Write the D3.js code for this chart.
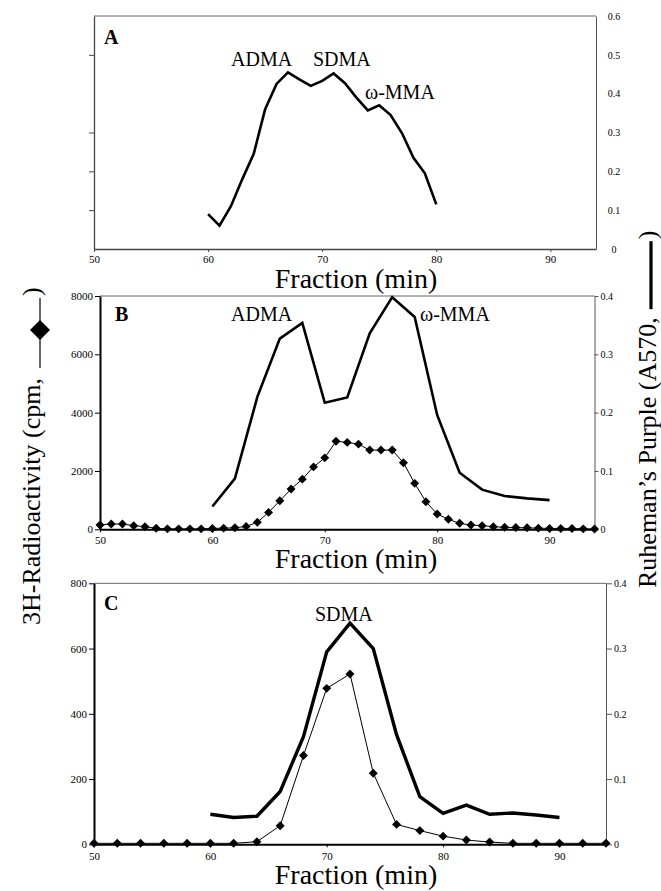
<!DOCTYPE html>
<html>
<head>
<meta charset="utf-8">
<script src="https://cdn.jsdelivr.net/npm/d3@7"></script>
<style>
  body { margin: 0; background: #fff; }
  svg { font-family: "Liberation Serif", "Times New Roman", serif; }
</style>
</head>
<body>
<div id="chart"></div>
<script>
// Фракции (мин) и показания
var xTicks = [50, 60, 70, 80, 90];

// A: только поглощение (A570)
var fracA = [60, 61, 62, 63, 64, 65, 66, 67, 68, 69, 70, 71, 72, 73, 74, 75, 76, 77, 78, 79, 80];
var purpleA = [0.09, 0.06, 0.11, 0.18, 0.245, 0.36, 0.425, 0.455, 0.437, 0.42, 0.433, 0.452, 0.427, 0.39, 0.357, 0.37, 0.345, 0.298, 0.235, 0.195, 0.115];
var rightTicksA = [0, 0.1, 0.2, 0.3, 0.4, 0.5, 0.6];
var leftTicksA = [0.1, 0.2, 0.3, 0.5];

// B
var fracBPurple = [60, 62, 64, 66, 68, 70, 72, 74, 76, 78, 80, 82, 84, 86, 88, 90];
var purpleB = [0.039, 0.087, 0.227, 0.327, 0.354, 0.217, 0.226, 0.336, 0.398, 0.364, 0.196, 0.097, 0.068, 0.057, 0.053, 0.05];
var fracBRadio = [50, 51, 52, 53, 54, 55, 56, 57, 58, 59, 60, 61, 62, 63, 64, 65, 66, 67, 68, 69, 70, 71, 72, 73, 74, 75, 76, 77, 78, 79, 80, 81, 82, 83, 84, 85, 86, 87, 88, 89, 90, 91, 92, 93, 94];
var radioB = [147, 180, 180, 125, 90, 34, 15, 15, 15, 15, 30, 40, 50, 100, 240, 580, 980, 1380, 1720, 2140, 2450, 3020, 2980, 2920, 2716, 2716, 2716, 2282, 1575, 946, 524, 342, 205, 147, 125, 90, 70, 60, 50, 40, 30, 30, 30, 15, 10];
var leftTicksB = [0, 2000, 4000, 6000, 8000];
var rightTicksB = [0, 0.1, 0.2, 0.3, 0.4];

// C
var fracCPurple = [60, 62, 64, 66, 68, 70, 72, 74, 76, 78, 80, 82, 84, 86, 88, 90];
var purpleC = [0.046, 0.041, 0.043, 0.081, 0.165, 0.295, 0.339, 0.30, 0.168, 0.073, 0.0475, 0.060, 0.046, 0.048, 0.045, 0.041];
var fracCRadio = [50, 52, 54, 56, 58, 60, 62, 64, 66, 68, 70, 72, 74, 76, 78, 80, 82, 84, 86, 88, 90, 92, 94];
var radioC = [3, 3, 3, 3, 3, 3, 3, 8, 57, 272, 478, 522, 218, 61, 42, 25, 13, 7, 3, 3, 3, 3, 3];
var leftTicksC = [0, 200, 400, 600, 800];
var rightTicksC = [0, 0.1, 0.2, 0.3, 0.4];

var svg = d3.select("#chart")
  .append("svg")
  .attr("width", 661)
  .attr("height", 891);

var panels = [
  {
    letter: "A", left: 94, right: 596, top: 16, bottom: 249,
    purple: d3.zip(fracA, purpleA), purpleMax: 0.6, purpleWidth: 2.6,
    rightTicks: rightTicksA, rightTickSize: 0, rightPad: 12, rightAnchor: "middle", rightDx: 6,
    leftTicks: leftTicksA, leftLabels: false, axisColor: "#444",
    letterPos: [104, 44],
    notes: [["ADMA", 231, 66], ["SDMA", 313, 66], ["\u03c9-MMA", 365, 99]],
    xLabelY: 288, xTickY: 263
  },
  {
    letter: "B", left: 100, right: 594.5, top: 296, bottom: 529.3,
    purple: d3.zip(fracBPurple, purpleB), purpleMax: 0.4, purpleWidth: 2.6,
    radio: d3.zip(fracBRadio, radioB), radioMax: 8000,
    rightTicks: rightTicksB, rightTickSize: 4, rightPad: 2, rightAnchor: "start", rightDx: 0,
    leftTicks: leftTicksB, leftLabels: true, axisColor: "#000",
    letterPos: [115, 321],
    notes: [["ADMA", 231, 321], ["\u03c9-MMA", 420, 321]],
    xLabelY: 568, xTickY: 544
  },
  {
    letter: "C", left: 94, right: 606, top: 583.3, bottom: 844.3,
    purple: d3.zip(fracCPurple, purpleC), purpleMax: 0.4, purpleWidth: 3.4,
    radio: d3.zip(fracCRadio, radioC), radioMax: 800,
    rightTicks: rightTicksC, rightTickSize: 6, rightPad: 2, rightAnchor: "start", rightDx: 0,
    leftTicks: leftTicksC, leftLabels: true, axisColor: "#000",
    letterPos: [104, 610],
    notes: [["SDMA", 315, 621]],
    xLabelY: 884, xTickY: 860
  }
];

var diamond = d3.symbol().type(d3.symbolSquare).size(40);

panels.forEach(function(p) {
  var x = d3.scaleLinear().domain([50, 94]).range([p.left, p.right]);
  var yR = d3.scaleLinear().domain([0, p.purpleMax]).range([p.bottom, p.top]);
  var yL = p.radio ? d3.scaleLinear().domain([0, p.radioMax]).range([p.bottom, p.top]) : yR;
  var g = svg.append("g");

  // рамка сверху
  g.append("line")
    .attr("x1", x(50)).attr("x2", x(94))
    .attr("y1", yR(p.purpleMax)).attr("y2", yR(p.purpleMax))
    .attr("stroke", "#666").attr("stroke-width", 1);

  // правая шкала
  var ra = g.append("g")
    .attr("transform", "translate(" + x(94) + ",0)")
    .call(d3.axisRight(yR).tickValues(p.rightTicks).tickSize(p.rightTickSize)
      .tickSizeOuter(0).tickPadding(p.rightPad).tickFormat(d3.format("")));
  ra.select(".domain").attr("stroke", "#555");
  ra.selectAll("line").attr("stroke", "#555");
  ra.selectAll("text").attr("font-size", 10).attr("font-family", "Liberation Serif")
    .attr("text-anchor", p.rightAnchor).attr("dx", p.rightDx);

  // левая шкала
  var la = g.append("g")
    .attr("transform", "translate(" + x(50) + ",0)")
    .call(d3.axisLeft(yL).tickValues(p.leftTicks).tickSize(5).tickSizeOuter(0)
      .tickPadding(2).tickFormat(p.leftLabels ? d3.format("d") : ""));
  la.select(".domain").attr("stroke", p.axisColor).attr("stroke-width", p.radio ? 2 : 1.3);
  la.selectAll("line").attr("stroke", p.axisColor);
  la.selectAll("text").attr("font-size", 11).attr("font-family", "Liberation Serif");

  // нижняя шкала
  var ba = g.append("g")
    .attr("transform", "translate(0," + p.bottom + ")")
    .call(d3.axisBottom(x).tickValues(xTicks).tickSize(3).tickSizeOuter(0).tickFormat(d3.format("d")));
  ba.select(".domain").attr("stroke", p.axisColor).attr("stroke-width", p.radio ? 2 : 1.3);
  ba.selectAll("line").attr("stroke", p.axisColor);
  ba.selectAll("text").attr("font-size", 11).attr("font-family", "Liberation Serif")
    .attr("y", p.xTickY - p.bottom).attr("dy", 0);

  // линия поглощения
  g.append("path")
    .datum(p.purple)
    .attr("fill", "none")
    .attr("stroke", "#000")
    .attr("stroke-width", p.purpleWidth)
    .attr("stroke-linejoin", "miter")
    .attr("d", d3.line().x(function(d) { return x(d[0]); }).y(function(d) { return yR(d[1]); }));

  // радиоактивность
  if (p.radio) {
    g.append("path")
      .datum(p.radio)
      .attr("fill", "none")
      .attr("stroke", "#000")
      .attr("stroke-width", 1)
      .attr("d", d3.line().x(function(d) { return x(d[0]); }).y(function(d) { return yL(d[1]); }));
    g.selectAll(".pt")
      .data(p.radio)
      .enter()
      .append("path")
      .attr("class", "pt")
      .attr("d", diamond)
      .attr("fill", "#000")
      .attr("transform", function(d) {
        return "translate(" + x(d[0]) + "," + yL(d[1]) + ") rotate(45)";
      });
  }

  // подписи
  g.append("text")
    .attr("x", p.letterPos[0]).attr("y", p.letterPos[1])
    .attr("font-size", 20).attr("font-weight", "bold")
    .text(p.letter);
  p.notes.forEach(function(n) {
    g.append("text").attr("x", n[1]).attr("y", n[2]).attr("font-size", 20).text(n[0]);
  });
  g.append("text")
    .attr("x", 356).attr("y", p.xLabelY)
    .attr("text-anchor", "middle")
    .attr("font-size", 28)
    .text("Fraction (min)");
});

// Заголовки осей с условными обозначениями
var lt = svg.append("g").attr("transform", "translate(40,625) rotate(-90)");
var ltText = lt.append("text").attr("font-size", 26).text("3H-Radioactivity (cpm,");
var lw = ltText.node().getComputedTextLength();
lt.append("line").attr("x1", lw + 10).attr("x2", lw + 80).attr("y1", 0).attr("y2", 0)
  .attr("stroke", "#000").attr("stroke-width", 1.2);
lt.append("path").attr("d", d3.symbol().type(d3.symbolSquare).size(200))
  .attr("transform", "translate(" + (lw + 48) + ",0) rotate(45)");
lt.append("text").attr("x", lw + 82).attr("font-size", 26).text(")");

var rt = svg.append("g").attr("transform", "translate(656,588) rotate(-90)");
var rtText = rt.append("text").attr("font-size", 26).text("Ruheman\u2019s Purple (A570,");
var rw = rtText.node().getComputedTextLength();
rt.append("line").attr("x1", rw + 8).attr("x2", rw + 76).attr("y1", -5).attr("y2", -5)
  .attr("stroke", "#000").attr("stroke-width", 3.2);
rt.append("text").attr("x", rw + 78).attr("font-size", 26).text(")");
</script>
</body>
</html>
